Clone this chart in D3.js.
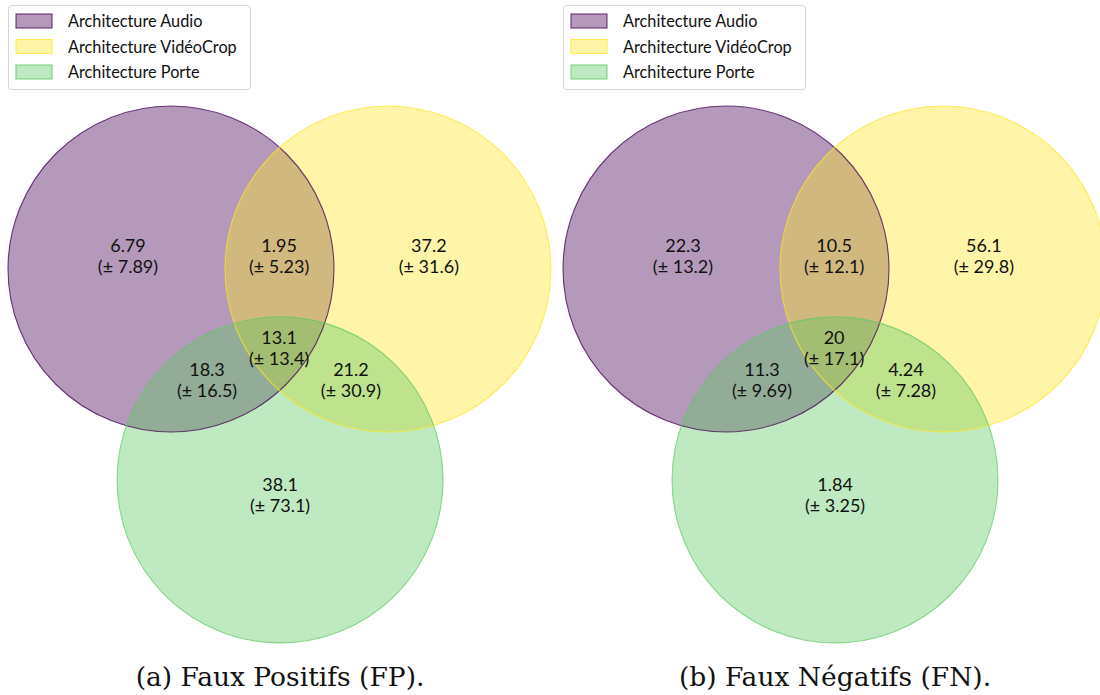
<!DOCTYPE html>
<html>
<head>
<meta charset="utf-8">
<script src="https://cdn.jsdelivr.net/npm/d3@7"></script>
<style>
  html, body { margin: 0; padding: 0; background: #fff; }
  svg { display: block; }
</style>
</head>
<body>
<svg id="chart" width="1100" height="695"></svg>
<script>
// ---------- data ----------
const setNames = ["Architecture Audio", "Architecture VidéoCrop", "Architecture Porte"];
const setColors = ["#440154", "#fde725", "#5ec962"];
// region codes: Audio only, VidéoCrop only, Audio∩VidéoCrop, Porte only, Audio∩Porte, VidéoCrop∩Porte, all three
const regions = ["100", "010", "110", "001", "101", "011", "111"];
const fpMeans = [6.79, 37.2, 1.95, 38.1, 18.3, 21.2, 13.1];
const fpStds  = [7.89, 31.6, 5.23, 73.1, 16.5, 30.9, 13.4];
const fnMeans = [22.3, 56.1, 10.5, 1.84, 11.3, 4.24, 20];
const fnStds  = [13.2, 29.8, 12.1, 3.25, 9.69, 7.28, 17.1];
const captions = ["(a) Faux Positifs (FP).", "(b) Faux Négatifs (FN)."];

// ---------- geometry (unit circle radius = 1) ----------
const circleCenters = [[0, 0], [1.331, 0], [0.669, 1.294]];
const labelPos = {
  "100": [-0.264, -0.08], "010": [1.582, -0.08], "110": [0.663, -0.08],
  "001": [0.669, 1.389], "101": [0.221, 0.681], "011": [1.104, 0.681],
  "111": [0.663, 0.485]
};

const svg = d3.select("#chart");
const fmt = d3.format(".3~g");
const labelFont = "Lato, 'DejaVu Sans', sans-serif";

const panels = [
  { means: fpMeans, stds: fpStds, caption: captions[0], originX: 171, legendX: 8 },
  { means: fnMeans, stds: fnStds, caption: captions[1], originX: 726, legendX: 563 }
];

panels.forEach(p => {
  const R = 163;
  const x = d3.scaleLinear().domain([0, 1]).range([p.originX, p.originX + R]);
  const y = d3.scaleLinear().domain([0, 1]).range([269, 269 + R]);
  const g = svg.append("g");

  g.selectAll("circle.fill")
    .data(circleCenters)
    .join("circle")
    .attr("cx", d => x(d[0]))
    .attr("cy", d => y(d[1]))
    .attr("r", R)
    .attr("fill", (d, i) => setColors[i])
    .attr("fill-opacity", 0.4)
    .attr("stroke", "none");

  g.selectAll("circle.edge")
    .data(circleCenters)
    .join("circle")
    .attr("cx", d => x(d[0]))
    .attr("cy", d => y(d[1]))
    .attr("r", R)
    .attr("fill", "none")
    .attr("stroke", (d, i) => setColors[i])
    .attr("stroke-opacity", (d, i) => i === 0 ? 0.75 : 0.7)
    .attr("stroke-width", 1.1);

  const lab = g.selectAll("g.lab")
    .data(regions.map((r, i) => ({ r, m: p.means[i], s: p.stds[i] })))
    .join("g")
    .attr("transform", d => `translate(${x(labelPos[d.r][0])},${y(labelPos[d.r][1])})`);
  lab.append("text")
    .attr("text-anchor", "middle")
    .attr("y", -4)
    .attr("font-family", labelFont)
    .attr("font-size", 18)
    .attr("fill", "#111")
    .text(d => fmt(d.m));
  lab.append("text")
    .attr("text-anchor", "middle")
    .attr("y", 17)
    .attr("font-family", labelFont)
    .attr("font-size", 18)
    .attr("fill", "#111")
    .text(d => `(± ${fmt(d.s)})`);

  // legend
  const lg = g.append("g").attr("transform", `translate(${p.legendX},5)`);
  lg.append("rect")
    .attr("x", 0.5).attr("y", 0.5)
    .attr("width", 242).attr("height", 84)
    .attr("rx", 3)
    .attr("fill", "#fff").attr("fill-opacity", 0.8)
    .attr("stroke", "#d6d6d6");
  const items = lg.selectAll("g.item")
    .data(setNames)
    .join("g")
    .attr("transform", (d, i) => `translate(8,${9 + i * 25.5})`);
  items.append("rect")
    .attr("width", 36).attr("height", 14)
    .attr("fill", (d, i) => setColors[i]).attr("fill-opacity", 0.4)
    .attr("stroke", (d, i) => setColors[i]).attr("stroke-opacity", 0.7)
    .attr("stroke-width", 1.2);
  items.append("text")
    .attr("x", 52).attr("y", 13)
    .attr("font-family", labelFont)
    .attr("font-size", 16.3)
    .attr("fill", "#111")
    .text(d => d);

  // caption
  g.append("text")
    .attr("x", x(0.669))
    .attr("y", 686)
    .attr("text-anchor", "middle")
    .attr("font-family", "'DejaVu Serif', 'Liberation Serif', serif")
    .attr("font-size", 26.5)
    .attr("fill", "#111")
    .text(p.caption);
});
</script>
</body>
</html>
